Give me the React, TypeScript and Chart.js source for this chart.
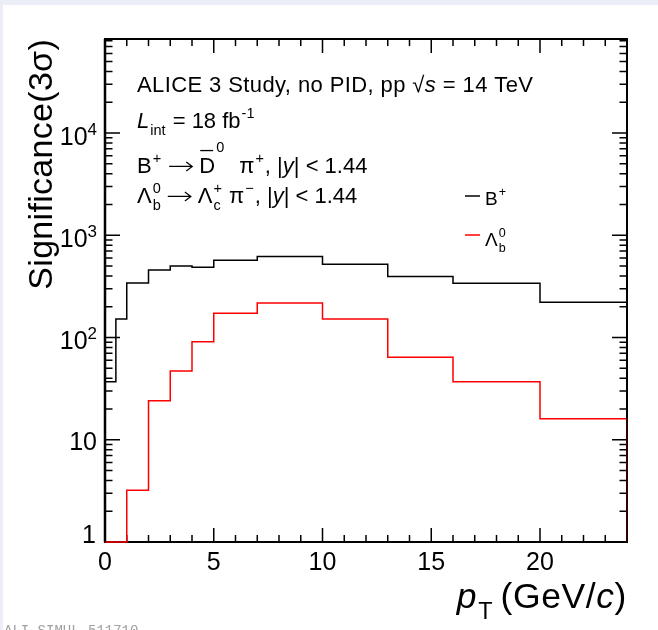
import React, { useEffect, useRef } from 'react';
import { Chart, registerables } from 'chart.js';

Chart.register(...registerables);

// ---------------- data ----------------
const bPlusEdges = [0, 0.5, 1, 2, 3, 4, 5, 7, 10, 13, 16, 20, 24];
const bPlusSignif = [37, 152, 342, 458, 500, 485, 568, 621, 519, 394, 339, 221];

const lambdaEdges = [0, 1, 2, 3, 4, 5, 7, 10, 13, 16, 20, 24];
const lambdaSignif = [1, 3.2, 24, 47, 91, 173, 218, 152, 64, 37, 16];

const xMin = 0;
const xMax = 24;
const yMin = 1;
const yMax = 83000;

const xMajorTicks = [0, 5, 10, 15, 20];
const xTickLabels = ['0', '5', '10', '15', '20'];
const xMinorStep = 1;

const yMajorTicks = [1, 10, 100, 1000, 10000];
const yTickBase = ['1', '10', '10', '10', '10'];
const yTickExp = ['', '', '2', '3', '4'];

// ---------------- layout / style ----------------
const W = 658;
const H = 630;
const FAM = '"Liberation Sans", Arial, Helvetica, sans-serif';

type Seg = {
  t?: string;
  it?: boolean;
  sup?: string;
  sub?: string;
  over?: boolean;
  supDy?: number;
  arrow?: boolean;
  gap?: number;
};

function fnt(size: number, it?: boolean) {
  return `${it ? 'italic ' : ''}${size}px ${FAM}`;
}

function layoutRich(ctx: CanvasRenderingContext2D, segs: Seg[], size: number, draw: boolean, x0: number, y: number, ls: number) {
  let cx = x0;
  const small = size * 0.66;
  for (const s of segs) {
    if (s.gap) cx += s.gap;
    if (s.arrow) {
      const w = size * 1.05;
      if (draw) {
        const yy = y - size * 0.3;
        ctx.save();
        ctx.lineWidth = 1.2;
        ctx.strokeStyle = ctx.fillStyle as string;
        ctx.beginPath();
        ctx.moveTo(cx, yy);
        ctx.lineTo(cx + w, yy);
        ctx.moveTo(cx + w - 6, yy - 4.5);
        ctx.lineTo(cx + w, yy);
        ctx.lineTo(cx + w - 6, yy + 4.5);
        ctx.stroke();
        ctx.restore();
      }
      cx += w + 1;
    }
    if (s.t) {
      ctx.font = fnt(size, s.it);
      (ctx as any).letterSpacing = `${ls}px`;
      const w = ctx.measureText(s.t).width;
      if (draw) {
        ctx.fillText(s.t, cx, y);
        if (s.over) {
          ctx.save();
          ctx.lineWidth = 1.3;
          ctx.strokeStyle = ctx.fillStyle as string;
          ctx.beginPath();
          ctx.moveTo(cx + 1, y - size * 1.02);
          ctx.lineTo(cx + w - 2, y - size * 1.02);
          ctx.stroke();
          ctx.restore();
        }
      }
      (ctx as any).letterSpacing = '0px';
      cx += w;
    }
    if (s.sup || s.sub) {
      ctx.font = fnt(small, false);
      const sw = s.sup ? ctx.measureText(s.sup).width : 0;
      const bw = s.sub ? ctx.measureText(s.sub).width : 0;
      if (draw) {
        if (s.sup) ctx.fillText(s.sup, cx + 1, y - size * 0.45 + (s.supDy || 0));
        if (s.sub) ctx.fillText(s.sub, cx + 1, y + size * 0.3);
      }
      cx += Math.max(sw, bw) + 2;
    }
  }
  return cx - x0;
}

function drawRich(ctx: CanvasRenderingContext2D, segs: Seg[], x: number, y: number, size: number, align: 'left' | 'right' = 'left', ls = 0) {
  ctx.textAlign = 'left';
  ctx.textBaseline = 'alphabetic';
  let x0 = x;
  if (align === 'right') {
    const w = layoutRich(ctx, segs, size, false, 0, 0, ls);
    x0 = x - w;
  }
  layoutRich(ctx, segs, size, true, x0, y, ls);
}

function histPoints(edges: number[], vals: number[]) {
  const pts: { x: number; y: number }[] = [];
  pts.push({ x: edges[0], y: yMin });
  pts.push({ x: edges[0], y: vals[0] });
  for (let i = 1; i < edges.length; i++) {
    pts.push({ x: edges[i], y: vals[i - 1] });
    if (i < vals.length) pts.push({ x: edges[i], y: vals[i] });
  }
  pts.push({ x: edges[edges.length - 1], y: yMin });
  return pts;
}

const rootStyle = {
  id: 'rootStyle',
  beforeDraw(chart: any) {
    const ctx = chart.ctx as CanvasRenderingContext2D;
    ctx.save();
    ctx.fillStyle = '#ffffff';
    ctx.fillRect(0, 0, W, H);
    ctx.fillStyle = '#eceef7';
    ctx.fillRect(0, 0, W, 5);
    ctx.fillRect(0, 0, 3, H);
    ctx.restore();
  },
  beforeDatasetsDraw(chart: any) {
    const ctx = chart.ctx as CanvasRenderingContext2D;
    const a = chart.chartArea;
    const xs = chart.scales.x;
    const ys = chart.scales.y;
    ctx.save();
    ctx.strokeStyle = '#000';
    ctx.fillStyle = '#000';

    // frame
    ctx.lineWidth = 2;
    ctx.strokeRect(a.left, a.top, a.right - a.left, a.bottom - a.top);
    ctx.lineWidth = 2.5;
    ctx.beginPath();
    ctx.moveTo(a.left, a.top);
    ctx.lineTo(a.left, a.bottom);
    ctx.stroke();

    // x ticks (inside, bottom and top)
    ctx.lineWidth = 1.5;
    for (let v = xMin; v <= xMax; v += xMinorStep) {
      const px = xs.getPixelForValue(v);
      const len = xMajorTicks.includes(v) ? 14 : 7;
      ctx.beginPath();
      ctx.moveTo(px, a.bottom);
      ctx.lineTo(px, a.bottom - len);
      ctx.moveTo(px, a.top);
      ctx.lineTo(px, a.top + len);
      ctx.stroke();
    }
    // y ticks (inside, left and right)
    for (const dec of yMajorTicks) {
      for (let m = 1; m <= 9; m++) {
        const v = m * dec;
        if (v > yMax) break;
        const py = ys.getPixelForValue(v);
        const len = m === 1 ? 15 : 7.5;
        ctx.beginPath();
        ctx.moveTo(a.left, py);
        ctx.lineTo(a.left + len, py);
        ctx.moveTo(a.right, py);
        ctx.lineTo(a.right - len, py);
        ctx.stroke();
      }
    }

    // x tick labels
    ctx.font = fnt(25);
    ctx.textAlign = 'center';
    ctx.textBaseline = 'alphabetic';
    xMajorTicks.forEach((v, i) => {
      ctx.fillText(xTickLabels[i], xs.getPixelForValue(v), a.bottom + 28);
    });

    // y tick labels
    yMajorTicks.forEach((v, i) => {
      const py = ys.getPixelForValue(v);
      const base = yTickBase[i];
      const exp = yTickExp[i];
      ctx.textAlign = 'right';
      if (exp) {
        ctx.font = fnt(17);
        const ew = ctx.measureText(exp).width;
        ctx.fillText(exp, a.left - 8, py + 2);
        ctx.font = fnt(25);
        ctx.fillText(base, a.left - 8 - ew, py + 12);
      } else if (v === yMin) {
        ctx.font = fnt(25);
        ctx.fillText(base, a.left - 9, py + 1);
      } else {
        ctx.font = fnt(25);
        ctx.fillText(base, a.left - 8, py + 10);
      }
    });

    // y axis title
    ctx.save();
    ctx.translate(52, a.top);
    ctx.rotate(-Math.PI / 2);
    ctx.font = fnt(34);
    (ctx as any).letterSpacing = '0.3px';
    ctx.textAlign = 'right';
    ctx.fillText('Significance(3σ)', 0, 0);
    (ctx as any).letterSpacing = '0px';
    ctx.restore();

    // x axis title
    drawRich(
      ctx,
      [{ t: 'p', it: true, sub: 'T' }, { t: '(GeV/', gap: 7 }, { t: 'c', it: true }, { t: ')' }],
      a.right,
      608,
      35.5,
      'right',
      0.6
    );

    // annotation text
    const tx = 137;
    drawRich(ctx, [{ t: 'ALICE 3 Study, no PID, pp √' }, { t: 's', it: true }, { t: ' = 14 TeV' }], tx, 92, 22, 'left', 0.4);
    drawRich(ctx, [{ t: 'L', it: true, sub: 'int' }, { t: ' = 18 fb', sup: '-1' }], tx, 128, 22);
    drawRich(
      ctx,
      [
        { t: 'B', sup: '+' },
        { arrow: true, gap: 7 },
        { t: 'D', over: true, sup: '0', supDy: -11, gap: 6 },
        { t: 'π', sup: '+', gap: 14 },
        { t: ', |' },
        { t: 'y', it: true },
        { t: '| < 1.44' },
      ],
      tx,
      173,
      22
    );
    drawRich(
      ctx,
      [
        { t: 'Λ', sub: 'b', sup: '0' },
        { arrow: true, gap: 6 },
        { t: 'Λ', sub: 'c', sup: '+', gap: 6 },
        { t: 'π', sup: '−', gap: 6 },
        { t: ', |' },
        { t: 'y', it: true },
        { t: '| < 1.44' },
      ],
      tx,
      203,
      22
    );

    // legend
    ctx.lineWidth = 1.5;
    ctx.strokeStyle = '#000';
    ctx.beginPath();
    ctx.moveTo(465, 196);
    ctx.lineTo(480, 196);
    ctx.stroke();
    ctx.fillStyle = '#000';
    drawRich(ctx, [{ t: 'B', sup: '+' }], 485, 205, 19);
    ctx.strokeStyle = '#ff0000';
    ctx.beginPath();
    ctx.moveTo(465, 235);
    ctx.lineTo(480, 235);
    ctx.stroke();
    ctx.fillStyle = '#000';
    drawRich(ctx, [{ t: 'Λ', sub: 'b', sup: '0' }], 485, 246, 19);

    // watermark
    ctx.fillStyle = '#a0a0a0';
    ctx.font = '14px "Liberation Mono", "DejaVu Sans Mono", monospace';
    ctx.textAlign = 'left';
    ctx.fillText('ALI-SIMUL-511710', 4, 635);

    ctx.restore();
  },
};

export default function App() {
  const ref = useRef<HTMLCanvasElement | null>(null);
  useEffect(() => {
    if (!ref.current) return;
    const chart = new Chart(ref.current, {
      type: 'line',
      data: {
        datasets: [
          {
            label: 'B+',
            data: histPoints(bPlusEdges, bPlusSignif),
            borderColor: '#000000',
            borderWidth: 1.5,
            pointRadius: 0,
            fill: false,
            tension: 0,
            clip: false as any,
          },
          {
            label: 'Lambda_b0',
            data: histPoints(lambdaEdges, lambdaSignif),
            borderColor: '#ff0000',
            borderWidth: 1.5,
            pointRadius: 0,
            fill: false,
            tension: 0,
            clip: false as any,
          },
        ],
      },
      options: {
        animation: false,
        responsive: false,
        maintainAspectRatio: false,
        layout: { padding: { left: 105, right: 31, top: 39, bottom: 88 } },
        plugins: { legend: { display: false }, tooltip: { enabled: false }, title: { display: false } },
        scales: {
          x: { type: 'linear', min: xMin, max: xMax, display: false },
          y: { type: 'logarithmic', min: yMin, max: yMax, display: false },
        },
      },
      plugins: [rootStyle],
    });
    return () => chart.destroy();
  }, []);
  return (
    <div style={{ position: 'absolute', left: 0, top: 0 }}>
      <canvas ref={ref} width={W} height={H} style={{ display: 'block', width: W, height: H }} />
    </div>
  );
}
